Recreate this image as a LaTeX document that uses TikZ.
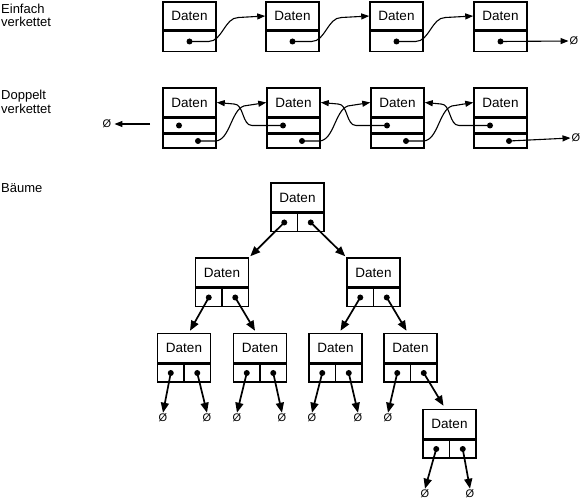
\documentclass[tikz,border=0pt]{standalone}
\usepackage{fontspec}
\setmainfont{Liberation Sans}
\usetikzlibrary{arrows.meta,positioning,calc}
\tikzset{
  dat/.style={draw, line width=1.5pt, minimum width=53pt, minimum height=28pt, inner sep=0pt, font=\fontsize{13.5}{14}\selectfont},
  cellbox/.style={draw, line width=1.5pt, minimum width=53pt, minimum height=#1, inner sep=0pt},
  halfcell/.style={draw, line width=1.5pt, minimum width=26.5pt, minimum height=18pt, inner sep=0pt},
  ptdot/.style={circle, fill=black, inner sep=0pt, minimum size=6pt},
  nil/.style={inner sep=0pt, font=\fontsize{11}{11}\selectfont},
  lbl/.style={anchor=base west, inner sep=0pt, font=\fontsize{13}{13.4}\selectfont},
  larr/.style={line width=1.1pt, -{Triangle[length=8pt,width=6pt]}},
  tarr/.style={line width=1.7pt, -{Triangle[length=10pt,width=8pt]}}
}
\begin{document}
\begin{tikzpicture}[x=1pt,y=-1pt]
\useasboundingbox (0,0) rectangle (582,500);
% labels
\node[lbl] (l1a) at (1,13.5) {Einfach};
\node[lbl] (l1b) at (1,27) {verkettet};
\node[lbl] (l2a) at (1,100) {Doppelt};
\node[lbl] (l2b) at (1,113.5) {verkettet};
\node[lbl] (l3) at (1,193) {Bäume};

% singly linked
\foreach \i/\x in {1/189.5,2/292.5,3/396.5,4/500.5}{
  \node[dat] (s\i) at (\x,16) {Daten};
  \node[cellbox=20pt, anchor=north] (s\i c) at (s\i.south) {};
  \node[ptdot] (s\i d) at (s\i c.center) {};
}
\foreach \i/\j in {1/2,2/3,3/4}{
  \draw[larr] (s\i d.center) -- ++(19,0) .. controls +(14,0) and +(-14,0) .. ++(30,-24) -- (s\j.west);
}
\node[nil] (snull) at (574,41) {Ø};
\draw[larr] (s4d.center) -- ([xshift=-1pt]snull.west);

% doubly linked
\foreach \i/\x in {1/189.5,2/293.5,3/397.5,4/500.5}{
  \node[dat, minimum height=29pt] (d\i) at (\x,102.5) {Daten};
  \node[cellbox=14pt, anchor=north] (d\i p) at (d\i.south) {};
  \node[cellbox=14pt, anchor=north] (d\i n) at (d\i p.south) {};
  \node[ptdot] (d\i pd) at ([xshift=-10.5pt]d\i p.center) {};
  \node[ptdot] (d\i nd) at ([xshift=8.5pt]d\i n.center) {};
}
\foreach \i/\j in {1/2,2/3,3/4}{
  \draw[larr] (d\i nd.center) -- ++(17,0) .. controls +(16,0) and +(-16,0) .. ++(32,-35.5) -- (d\j.west);
  \draw[larr] (d\j pd.center) -- ++(-31,0) .. controls +(-10,0) and +(10,0) .. ++(-18,-21.5) -- (d\i.east);
}
\node[nil] (dnullL) at (107,124) {Ø};
\coordinate (dstart) at (150,124);
\draw[larr] (dstart) -- ([xshift=3pt]dnullL.east);
\node[nil] (dnullR) at (576,138) {Ø};
\draw[larr] (d4nd.center) -- ([xshift=-1pt]dnullR.west);

% tree
\foreach \n/\x/\y in {r/297.5/197.5, a/222/272.5, b/373.5/272.5, c1/184/348, c2/260/348, c3/335.5/348, c4/410.5/348, e/449.5/424}{
  \node[dat, minimum height=29pt] (\n) at (\x,\y) {Daten};
  \node[halfcell, anchor=north west] (\n L) at (\n.south west) {};
  \node[halfcell, anchor=north east] (\n R) at (\n.south east) {};
  \node[ptdot] (\n Ld) at (\n L.center) {};
  \node[ptdot] (\n Rd) at (\n R.center) {};
}
\draw[tarr] (rLd.center) -- ([xshift=1pt,yshift=1pt]a.north east);
\draw[tarr] (rRd.center) -- ([xshift=-1pt,yshift=1pt]b.north west);
\draw[tarr] (aLd.center) -- ([xshift=6pt,yshift=2pt]c1.north);
\draw[tarr] (aRd.center) -- ([xshift=-5pt,yshift=2pt]c2.north);
\draw[tarr] (bLd.center) -- ([xshift=5pt,yshift=2pt]c3.north);
\draw[tarr] (bRd.center) -- ([xshift=-4pt,yshift=2pt]c4.north);
\draw[tarr] (c4Rd.center) -- ([xshift=-6pt,yshift=3pt]e.north);
% leaves
\foreach \n/\x/\y/\s in {n1/163/418/c1Ld, n2/207/418/c1Rd, n3/237/418/c2Ld, n4/282/418/c2Rd, n5/312/418/c3Ld, n6/358/418/c3Rd, n7/388/418/c4Ld, n8/425/494/eLd, n9/470/494/eRd}{
  \node[nil] (\n) at (\x,\y) {Ø};
  \draw[tarr] (\s.center) -- ([yshift=1pt]\n.north);
}
\end{tikzpicture}
\end{document}
